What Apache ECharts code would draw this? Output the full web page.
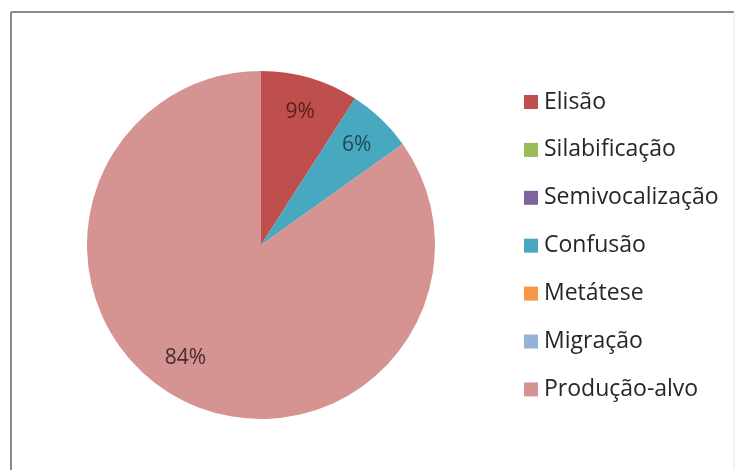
<!DOCTYPE html>
<html>
<head>
<meta charset="utf-8">
<style>
  html, body { margin: 0; padding: 0; background: #ffffff; }
  #chart { width: 738px; height: 470px; }
</style>
<script src="https://cdn.jsdelivr.net/npm/echarts@6/dist/echarts.min.js"></script>
</head>
<body>
<div id="chart"></div>
<script>
// Categories in pie order (clockwise from 12 o'clock)
const categories = ['Elisão', 'Silabificação', 'Semivocalização', 'Confusão', 'Metátese', 'Migração', 'Produção-alvo'];
// Share of each category, in percent
const values = [9, 0, 0, 6, 0, 0, 84];
const colors = ['#BE4F4C', '#9BBB59', '#7F63A1', '#48A8C0', '#F79646', '#95B3D7', '#D59392'];
const labelColors = ['#5a1e1d', '#333333', '#333333', '#1c4a57', '#333333', '#333333', '#4a2c2c'];

const FONT = 'Open Sans, Noto Sans, sans-serif';
const center = [261, 245];
const R = 174;

const chart = echarts.init(document.getElementById('chart'), null, { renderer: 'canvas' });

const sliceData = categories.map((name, i) => ({
  name,
  value: values[i],
  itemStyle: { color: colors[i] }
}));

// Transparent ring used only to place the percentage labels near the rim
const labelData = categories.map((name, i) => ({
  name,
  value: values[i],
  label: {
    show: values[i] > 0,
    color: labelColors[i]
  }
}));

chart.setOption({
  animation: false,
  backgroundColor: '#ffffff',
  graphic: [
    { type: 'line', shape: { x1: 11, y1: 12, x2: 734, y2: 12 }, style: { stroke: '#8a8a8a', lineWidth: 2 } },
    { type: 'line', shape: { x1: 11, y1: 12, x2: 11, y2: 470 }, style: { stroke: '#8a8a8a', lineWidth: 2 } },
    { type: 'line', shape: { x1: 734, y1: 12, x2: 734, y2: 470 }, style: { stroke: '#e6e6e6', lineWidth: 1 } }
  ],
  legend: {
    orient: 'vertical',
    left: 524,
    top: 89,
    padding: 0,
    itemWidth: 14,
    itemHeight: 14,
    itemGap: 21.9,
    icon: 'rect',
    selectedMode: false,
    data: categories,
    textStyle: {
      fontFamily: FONT,
      fontSize: 23,
      lineHeight: 26,
      color: '#262626',
      padding: [0, 0, 0, 1]
    }
  },
  series: [
    {
      type: 'pie',
      center: center,
      radius: [0, R],
      startAngle: 90,
      clockwise: true,
      silent: true,
      label: { show: false },
      labelLine: { show: false },
      data: sliceData
    },
    {
      type: 'pie',
      center: center,
      radius: [R * 0.56, R],
      startAngle: 90,
      clockwise: true,
      silent: true,
      itemStyle: { color: 'rgba(0,0,0,0)' },
      label: {
        position: 'inside',
        formatter: (p) => p.value + '%',
        fontFamily: FONT,
        fontSize: 21
      },
      labelLine: { show: false },
      // the large slice's label sits a little further round, toward the left
      labelLayout: (p) => (p.dataIndex === 6 ? { dx: -12, dy: -10 } : {}),
      data: labelData
    }
  ]
});
</script>
</body>
</html>
